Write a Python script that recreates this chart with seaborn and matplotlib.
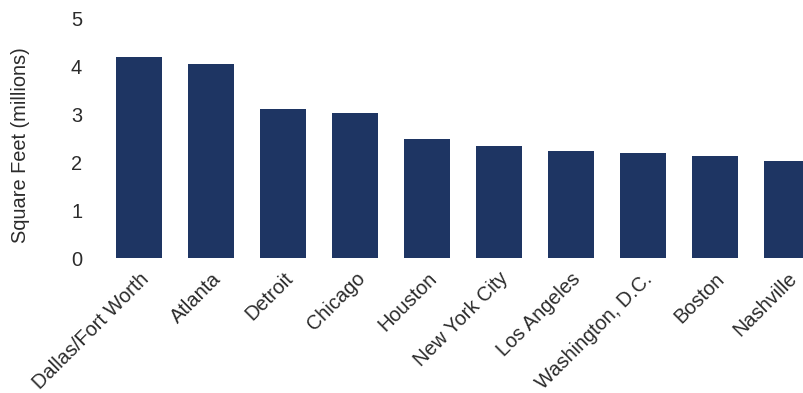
import pandas as pd
import seaborn as sns
import matplotlib.pyplot as plt

cities = ['Dallas/Fort Worth', 'Atlanta', 'Detroit', 'Chicago', 'Houston',
          'New York City', 'Los Angeles', 'Washington, D.C.', 'Boston', 'Nashville']
sq_feet = [4.19, 4.04, 3.10, 3.02, 2.48, 2.33, 2.23, 2.19, 2.13, 2.02]

df = pd.DataFrame({'City': cities, 'SqFt': sq_feet})

sns.set_style('white')
plt.rcParams['font.family'] = ['Liberation Sans', 'DejaVu Sans']

fig = plt.figure(figsize=(8.04, 3.93), dpi=100)
ax = fig.add_axes([103 / 804, 135 / 393, 720 / 804, 240 / 393])

sns.barplot(data=df, x='City', y='SqFt', color='#1e3563', saturation=1,
            width=0.64, linewidth=0, ax=ax)

ax.set_ylim(0, 5)
ax.set_xlim(-0.5, 9.5)
ax.set_yticks(range(0, 6))
ax.set_xlabel('')
ax.set_ylabel('Square Feet (millions)', fontsize=14.4, color='#2b2b2b')
ax.yaxis.set_label_coords(-0.102, 0.47)
ax.tick_params(axis='y', length=0, pad=15, labelsize=14.4, labelcolor='#2b2b2b')
ax.tick_params(axis='x', length=0, pad=8, labelsize=14.4, labelcolor='#2b2b2b')
plt.setp(ax.get_xticklabels(), rotation=45, ha='right', rotation_mode='anchor')
sns.despine(left=True, bottom=True)

fig.savefig('out.png', dpi=100)
